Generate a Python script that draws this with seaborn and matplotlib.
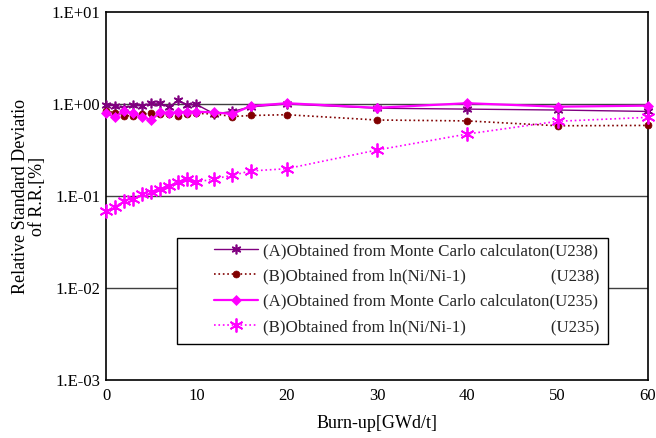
import matplotlib
matplotlib.use("Agg")
import matplotlib.pyplot as plt
from matplotlib.patches import Rectangle
import seaborn as sns
import pandas as pd
import numpy as np

burnup = [0, 1, 2, 3, 4, 5, 6, 7, 8, 9, 10, 12, 14, 16, 20, 30, 40, 50, 60]
u238_a = [0.98, 0.95, 0.90, 0.97, 0.95, 1.02, 1.02, 0.93, 1.10, 0.97, 0.99, 0.78, 0.83, 0.93, 1.00, 0.90, 0.88, 0.86, 0.83]
u238_b = [0.845, 0.80, 0.745, 0.746, 0.78, 0.79, 0.77, 0.77, 0.745, 0.78, 0.79, 0.78, 0.73, 0.75, 0.765, 0.67, 0.655, 0.58, 0.585]
u235_a = [0.79, 0.72, 0.845, 0.79, 0.72, 0.67, 0.81, 0.80, 0.81, 0.825, 0.825, 0.81, 0.78, 0.95, 1.02, 0.91, 1.02, 0.935, 0.96]
u235_b = [0.068, 0.0765, 0.0875, 0.0935, 0.105, 0.11, 0.118, 0.129, 0.142, 0.153, 0.141, 0.154, 0.168, 0.187, 0.198, 0.316, 0.472, 0.649, 0.716]

labels = [
    "(A)Obtained from Monte Carlo calculaton(U238)",
    "(B)Obtained from ln(Ni/Ni-1)                    (U238)",
    "(A)Obtained from Monte Carlo calculaton(U235)",
    "(B)Obtained from ln(Ni/Ni-1)                    (U235)",
]
x_ticks = [0, 10, 20, 30, 40, 50, 60]
y_ticks = [1e-3, 1e-2, 1e-1, 1e0, 1e1]
y_tick_labels = ["1.E-03", "1.E-02", "1.E-01", "1.E+00", "1.E+01"]

sns.set_theme(style="white")
plt.rcParams['font.family'] = ['Liberation Serif', 'DejaVu Serif']

fig = plt.figure(figsize=(6.56, 4.38), dpi=100)
ax = fig.add_axes([0.1616, 0.1324, 0.8262, 0.8402])

styles = [
    (u238_a, "#800080", "-", (6, 2, 0), 7, 1.0, 1.2),
    (u238_b, "#800000", ":", "o", 5, 1.2, 0.5),
    (u235_a, "#FF00FF", "-", "D", 5, 1.6, 0.5),
    (u235_b, "#FF00FF", ":", (6, 2, 0), 10, 1.2, 1.3),
]
for (vals, col, ls, mk, ms, lw, mew), lab in zip(styles, labels):
    df = pd.DataFrame({"x": burnup, "y": vals})
    sns.lineplot(data=df, x="x", y="y", ax=ax, color=col, linestyle=ls, marker=mk,
                 markersize=ms, linewidth=lw, markeredgewidth=mew,
                 markeredgecolor=col, markerfacecolor=col, label=lab, clip_on=False, zorder=3)

ax.set_yscale("log")
ax.set_xlim(0, 60)
ax.set_ylim(1e-3, 1e1)
ax.set_xticks(x_ticks)
ax.set_xticklabels([str(t) for t in x_ticks])
ax.set_yticks(y_ticks)
ax.set_yticklabels(y_tick_labels)
ax.yaxis.set_minor_locator(matplotlib.ticker.NullLocator())
for yv in [1e-2, 1e-1, 1e0]:
    ax.axhline(yv, color="#404040", linewidth=1.0, zorder=1)
ax.tick_params(axis="x", direction="in", length=4, width=0.8, colors="black", labelsize=12, pad=6)
ax.tick_params(axis="y", direction="in", length=4, width=0.8, colors="black", labelsize=12, pad=4)
for s in ax.spines.values():
    s.set_color("black")
    s.set_linewidth(1.2)
ax.set_xlabel("Burn-up[GWd/t]", fontsize=13, color="black", labelpad=8)
ax.set_ylabel("Relative Standard Deviatio\nof R.R.[%]", fontsize=13, color="black", labelpad=4, linespacing=1.0)

# legend box
box = Rectangle((0.131, 0.098), 0.795, 0.288, transform=ax.transAxes, facecolor="white",
                edgecolor="black", linewidth=1.0, zorder=4, clip_on=False)
ax.add_patch(box)
leg = ax.legend(loc="upper left", bbox_to_anchor=(0.2, 0.372), fontsize=12.2, frameon=False,
                handlelength=2.55, borderpad=0, labelspacing=0.55, handletextpad=0.3,
                borderaxespad=0)
leg.set_zorder(5)

fig.savefig("out.png", dpi=100)
